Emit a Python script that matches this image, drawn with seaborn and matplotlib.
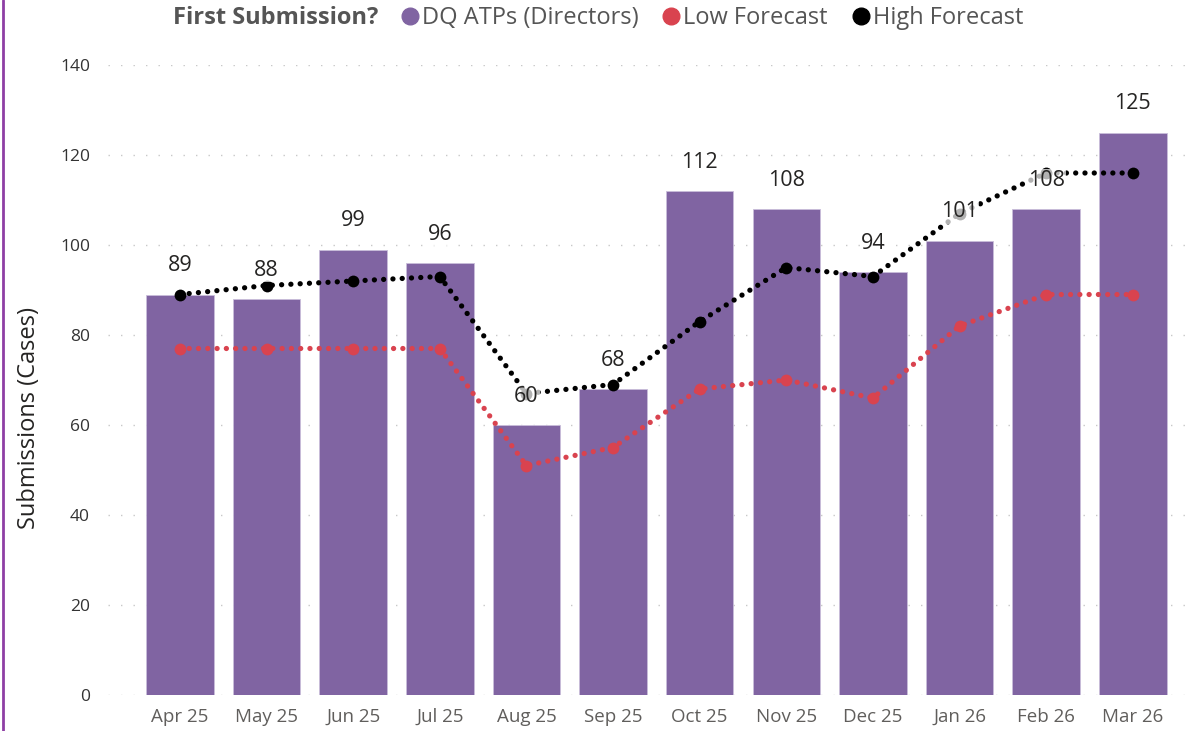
import matplotlib.pyplot as plt
import numpy as np
import pandas as pd
import seaborn as sns
from matplotlib.lines import Line2D

months = ["Apr 25", "May 25", "Jun 25", "Jul 25", "Aug 25", "Sep 25",
          "Oct 25", "Nov 25", "Dec 25", "Jan 26", "Feb 26", "Mar 26"]
dq_atps = [89, 88, 99, 96, 60, 68, 112, 108, 94, 101, 108, 125]
low_forecast = [77, 77, 77, 77, 51, 55, 68, 70, 66, 82, 89, 89]
high_forecast = [89, 91, 92, 93, 67, 69, 83, 95, 93, 107, 116, 116]

BAR_COLOR = "#8064A2"
LOW_COLOR = "#D9434F"
HIGH_COLOR = "#000000"

sns.set_theme(style="white")
plt.rcParams["font.family"] = ["Open Sans", "DejaVu Sans"]

df = pd.DataFrame({
    "month": months,
    "pos": np.arange(len(months)),
    "dq": dq_atps,
    "low": low_forecast,
    "high": high_forecast,
})

fig = plt.figure(figsize=(11.96, 7.31), dpi=100)
ax = fig.add_axes([108 / 1196, 1 - 695 / 731, (1190 - 108) / 1196, (695 - 65) / 731])

# gridlines
for v in range(0, 141, 20):
    ax.axhline(v, color="#C8C8C8", lw=1.0, ls=(0, (1, 8)), zorder=0)

sns.barplot(data=df, x="month", y="dq", color=BAR_COLOR, width=0.78,
            saturation=1, edgecolor="#C9BEDA", linewidth=0.6, ax=ax, zorder=2)

dot = (0, (0.01, 1.75))
for col, color in [("low", LOW_COLOR), ("high", HIGH_COLOR)]:
    sns.lineplot(data=df, x="pos", y=col, color=color, lw=3.8, ax=ax,
                 linestyle=dot, dash_capstyle="round", zorder=3,
                 marker="o", markersize=8.5, markeredgewidth=0, legend=False)

# data labels with semi transparent background (like the report)
for i, v in enumerate(dq_atps):
    ax.annotate(str(v), (i, v), xytext=(0, 13), textcoords="offset points",
                ha="center", va="bottom", fontsize=15.5, color="#252423",
                zorder=5,
                bbox=dict(boxstyle="square,pad=0.05", fc="white", ec="none", alpha=0.7))

ax.set_xlim(-0.83, 11.66)
ax.set_ylim(0, 140)
ax.set_yticks(range(0, 141, 20))
ax.set_xlabel("")
ax.set_ylabel("Submissions (Cases)", fontsize=17, color="#252423")
ax.yaxis.set_label_coords(-0.062, 0.44)
ax.tick_params(axis="y", labelsize=12.5, labelcolor="#333333", length=0, pad=13)
ax.tick_params(axis="x", labelsize=13.5, labelcolor="#605E5C", length=0, pad=9)
for s in ax.spines.values():
    s.set_visible(False)

# legend at top
fig.text(173 / 1196, 1 - 18 / 731, "First Submission?", fontsize=17,
         fontweight="bold", color="#555555", va="center", ha="left")
handles = [
    Line2D([], [], marker="o", ls="none", color=BAR_COLOR, markersize=12),
    Line2D([], [], marker="o", ls="none", color=LOW_COLOR, markersize=12),
    Line2D([], [], marker="o", ls="none", color=HIGH_COLOR, markersize=12),
]
fig.legend(handles, ["DQ ATPs (Directors)", "Low Forecast", "High Forecast"],
           loc="center left", bbox_to_anchor=(391 / 1196, 1 - 18 / 731),
           ncol=3, frameon=False, handletextpad=-0.3, handlelength=1.6,
           columnspacing=0.6, labelcolor="#555555", borderaxespad=0, borderpad=0,
           prop={"size": 17})

# left border of the visual
fig.add_artist(Line2D([2.5 / 1196, 2.5 / 1196], [0, 1], color="#8E3FA5", lw=2.0,
                      transform=fig.transFigure))

fig.savefig("out.png", dpi=100)
